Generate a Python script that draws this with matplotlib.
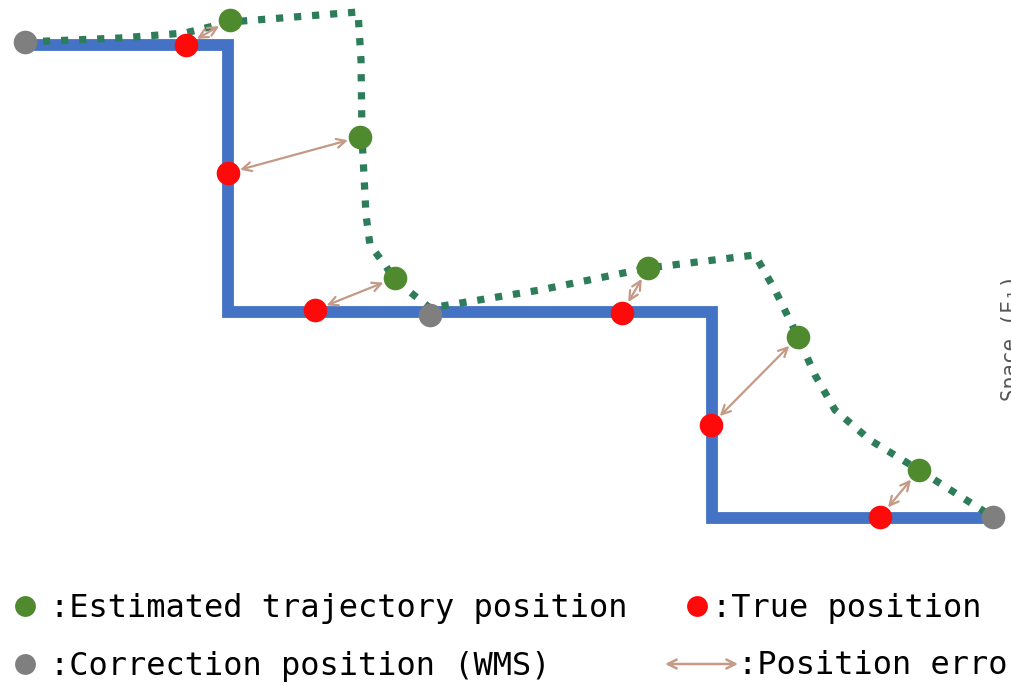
import matplotlib
matplotlib.use('Agg')
import matplotlib.pyplot as plt

# drawing is laid out in image pixel units (x right, y down)
true_path_x = [25, 228, 228, 712, 712, 993]
true_path_y = [45, 45, 312, 312, 518, 518]

est_path_x = [25, 120, 185, 230, 358, 361, 362, 366, 370, 385, 395, 430,
              540, 648, 755, 775, 798, 815, 835, 870, 919, 993]
est_path_y = [42, 38, 33, 22, 12, 60, 137, 215, 245, 265, 280, 308,
              290, 268, 255, 290, 337, 375, 410, 440, 470, 517]

true_x = [186, 228, 315, 622, 711, 880]
true_y = [45, 173, 310, 313, 425, 517]
est_x = [230, 360, 395, 648, 798, 919]
est_y = [20, 137, 278, 268, 337, 470]
corr_x = [25, 430, 993]
corr_y = [42, 315, 517]

legend_labels = [':Estimated trajectory position', ':True position',
                 ':Correction position (WMS)', ':Position error']

blue = '#4472C4'
dotted = '#2E7D5A'
green = '#4F8A2F'
red = '#FF0A0A'
gray = '#7F7F7F'
brown = '#C49A86'

fig = plt.figure(figsize=(10.11, 6.97), dpi=100)
ax = fig.add_axes([0, 0, 1, 1])
ax.set_xlim(0, 1011)
ax.set_ylim(697, 0)
ax.axis('off')

ax.plot(true_path_x, true_path_y, color=blue, lw=8.5, solid_joinstyle='miter',
        solid_capstyle='butt', zorder=1)
ax.plot(est_path_x, est_path_y, color=dotted, lw=5.2, ls=(0, (1, 1.5)),
        dash_capstyle='butt', zorder=2)

# error arrows between true and estimated points
for tx, ty, ex, ey in zip(true_x, true_y, est_x, est_y):
    ax.annotate('', xy=(ex, ey), xytext=(tx, ty),
                arrowprops=dict(arrowstyle='<->', color=brown, lw=1.6,
                                shrinkA=9, shrinkB=9, mutation_scale=16),
                zorder=3)

ax.plot(true_x, true_y, 'o', color=red, ms=17, mec='none', zorder=4)
ax.plot(est_x, est_y, 'o', color=green, ms=17, mec='none', zorder=4)
ax.plot(corr_x, corr_y, 'o', color=gray, ms=17, mec='none', zorder=4)

# cut-off axis label at the right edge
ax.text(1001, 338, 'Space (E\u2081)', rotation=90, ha='left', va='center',
        fontsize=15, color='#555555', family='DejaVu Sans Mono')

# legend drawn by hand
mono = dict(fontsize=23, family='DejaVu Sans Mono', color='black',
            va='center', ha='left')
ax.plot([25], [606], 'o', color=green, ms=15, mec='none')
ax.text(50, 608, legend_labels[0], **mono)
ax.plot([697], [606], 'o', color=red, ms=15, mec='none')
ax.text(712, 608, legend_labels[1], **mono)
ax.plot([25], [664], 'o', color=gray, ms=15, mec='none')
ax.text(50, 666, legend_labels[2], **mono)
ax.annotate('', xy=(738, 664), xytext=(665, 664),
            arrowprops=dict(arrowstyle='<->', color=brown, lw=1.8,
                            shrinkA=0, shrinkB=0, mutation_scale=16))
ax.text(738, 666, legend_labels[3], **mono)

fig.savefig('out.png', dpi=100)
